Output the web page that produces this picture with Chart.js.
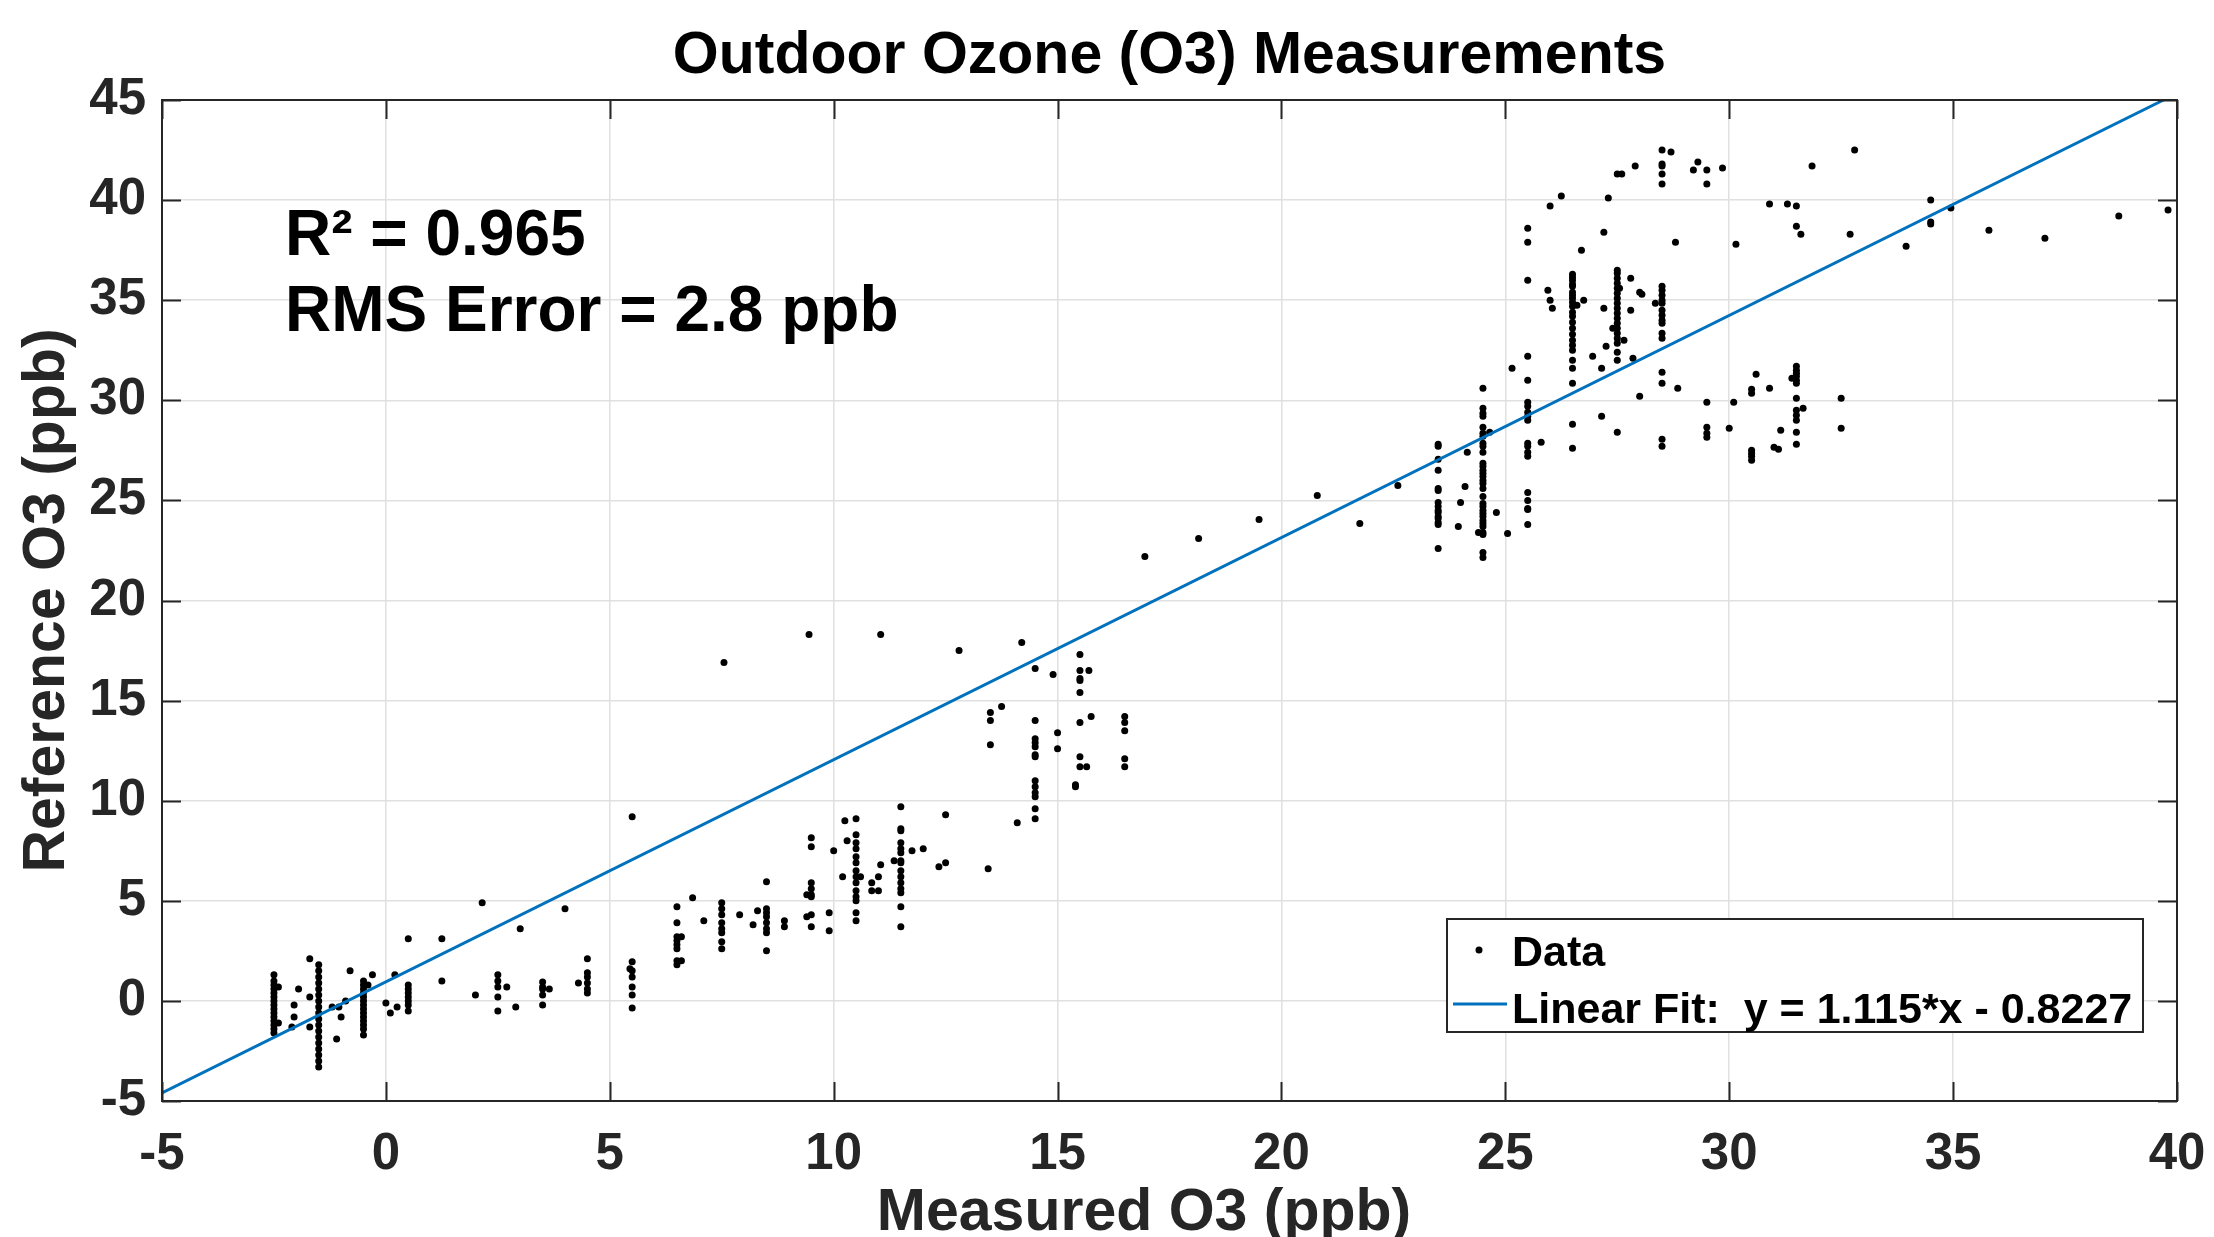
<!DOCTYPE html>
<html>
<head>
<meta charset="utf-8">
<title>Outdoor Ozone (O3) Measurements</title>
<script src="https://cdn.jsdelivr.net/npm/chart.js@4.4.1/dist/chart.umd.min.js"></script>
<style>
  html, body { margin: 0; padding: 0; background: #fff; }
  #wrap { width: 2214px; height: 1237px; }
</style>
</head>
<body>
<div id="wrap"><canvas id="ozoneChart" width="2214" height="1237"></canvas></div>
<script>
// Axis ticks
const xTicks = [-5, 0, 5, 10, 15, 20, 25, 30, 35, 40];
const yTicks = [-5, 0, 5, 10, 15, 20, 25, 30, 35, 40, 45];

// Linear fit line as drawn (end points)
const fitX = [-5, 39.7];
const fitY = [-4.6, 45];

// Stacked readings: [measured, [reference values...]]
const stacks = [
    [-2.5, [1.3, 1.0, 0.8, 0.6, 0.4, 0.2, 0.0, -0.2, -0.4, -0.6, -0.8, -1.0, -1.2, -1.4, -1.6]],
    [-1.5, [1.8, 1.5, 1.2, 0.9, 0.6, 0.3, 0.0, -0.3, -0.6, -0.9, -1.2, -1.5, -1.8, -2.1, -2.4, -2.7, -3.0, -3.3]],
    [-0.5, [1.0, 0.8, 0.6, 0.4, 0.2, 0.0, -0.2, -0.4, -0.6, -0.8, -1.0, -1.2, -1.4, -1.7]],
    [0.5, [3.1, 0.8, 0.6, 0.4, 0.2, 0.0, -0.2, -0.5]],
    [2.5, [1.3, 1.0, 0.7, 0.2, -0.5]],
    [3.5, [0.95, 0.7, 0.6, 0.3, -0.2]],
    [4.5, [2.1, 1.4, 1.2, 0.9, 0.6, 0.4]],
    [5.5, [1.95, 1.5, 1.2, 0.7, 0.3, -0.35]],
    [6.5, [4.7, 3.9, 3.2, 3.0, 2.8, 2.6, 2.0, 1.8]],
    [7.5, [4.9, 4.6, 4.3, 3.9, 3.6, 3.4, 2.95, 2.6]],
    [8.5, [5.95, 4.6, 4.4, 4.2, 3.9, 3.6, 3.4, 2.5]],
    [9.5, [8.15, 7.7, 5.9, 5.6, 5.3, 5.2, 4.3, 3.7]],
    [10.5, [9.1, 8.3, 7.9, 7.6, 7.2, 6.9, 6.5, 6.2, 5.9, 5.5, 5.2, 5.0, 4.4, 4.0]],
    [11.5, [9.7, 8.6, 8.5, 7.9, 7.6, 7.4, 7.0, 6.9, 6.5, 6.2, 5.9, 5.6, 5.4, 4.7, 3.7]],
    [14.5, [16.6, 14.0, 13.1, 12.9, 12.7, 12.3, 12.2, 11.0, 10.7, 10.4, 10.2, 9.6, 9.1]],
    [15.5, [17.3, 16.5, 16.1, 16.0, 15.4, 13.9, 12.2, 11.7]],
    [16.5, [14.2, 13.9, 13.5, 12.1, 11.7]],
    [23.5, [27.8, 27.7, 27.05, 26.5, 25.6, 25.5, 24.9, 24.7, 24.5, 24.4, 24.2, 24.1, 23.9, 23.8, 22.6]],
    [24.5, [30.6, 29.6, 29.35, 29.2, 28.65, 28.35, 28.2, 27.85, 27.7, 27.4, 26.85, 26.7, 26.5, 26.35, 26.2, 26.0,
            25.85, 25.6, 25.2, 24.85, 24.7, 24.5, 24.35, 24.2, 24.0, 23.85, 23.7, 23.4, 23.3, 22.4, 22.15]],
    [25.5, [38.6, 37.9, 36.0, 32.2, 31.0, 29.9, 29.7, 29.4, 29.2, 29.0, 27.85, 27.7, 27.4, 27.2, 25.4, 25.0, 24.6, 24.55, 23.8]],
    [26.5, [36.3, 36.15, 36.0, 35.8, 35.7, 35.4, 35.25, 35.1, 34.9, 34.7, 34.4, 34.2, 33.9, 33.6, 33.3, 33.0,
            32.75, 32.5, 32.0, 31.6, 30.85, 28.8, 27.6]],
    [27.5, [41.3, 36.5, 36.35, 36.1, 35.85, 35.6, 35.35, 35.1, 34.85, 34.6, 34.35, 34.1, 33.85, 33.6, 33.35, 33.1,
            32.85, 32.4, 32.0, 28.4]],
    [28.5, [42.5, 41.8, 41.7, 41.3, 40.8, 35.7, 35.5, 35.25, 35.0, 34.85, 34.5, 34.25, 34.0, 33.85, 33.35, 33.1,
            31.4, 30.85, 28.05, 27.7]],
    [29.5, [41.5, 40.8, 29.9, 28.65, 28.35, 28.15]],
    [30.5, [30.55, 30.35, 27.5, 27.35, 27.2, 27.0]],
    [31.5, [39.7, 38.7, 31.7, 31.5, 31.35, 31.2, 31.0, 30.85, 30.1, 29.5, 29.25, 29.0, 28.4, 27.8]]
];

// Loose readings: [measured, reference]
const scattered = [
    [-2.4, 0.7], [-2.4, -1.1], [-2.1, -1.3], [-1.95, 0.6], [-2.05, -0.2], [-2.05, -0.8], [-1.7, 2.1], [-1.7, 0.2], [-1.7, -1.3],
    [-1.2, -0.3], [-1.05, -0.3], [-1.0, -0.8], [-1.1, -1.9], [-0.9, 0.0], [-0.8, 1.5],
    [-0.4, 0.8], [-0.3, 1.3], [0.0, -0.1], [0.1, -0.6], [0.2, 1.3], [0.25, -0.3],
    [1.25, 3.1], [1.25, 1.0], [2.0, 0.3], [2.15, 4.9],
    [2.7, 0.7], [2.9, -0.3], [3.0, 3.6], [3.65, 0.6], [4.0, 4.6], [4.3, 0.9],
    [5.45, 1.6], [5.5, 9.2],
    [6.6, 3.2], [6.6, 2.0], [6.85, 5.15], [7.1, 4.0],
    [7.9, 4.3], [8.2, 3.8], [8.3, 4.5], [8.9, 4.0], [8.9, 3.7],
    [9.4, 5.3], [9.4, 4.2], [9.9, 4.4], [9.9, 3.5], [10.0, 7.5],
    [10.25, 9.0], [10.3, 8.0], [10.2, 6.2], [10.6, 6.2], [10.85, 5.9], [10.85, 5.5], [11.0, 6.2], [11.0, 5.5], [11.05, 6.8],
    [11.35, 7.0], [11.75, 7.5], [12.0, 7.6], [12.35, 6.7], [12.5, 6.9], [12.5, 9.3], [13.45, 6.6], [14.1, 8.9],
    [13.5, 14.4], [13.5, 14.0], [13.5, 12.8], [13.75, 14.7],
    [14.9, 16.3], [15.0, 13.4], [15.0, 12.6], [15.7, 16.5], [15.75, 14.2], [15.65, 11.7], [15.4, 10.8], [15.4, 10.7],
    [7.55, 16.9], [9.45, 18.3], [11.05, 18.3], [12.8, 17.5], [14.2, 17.9],
    [16.95, 22.2], [18.15, 23.1], [19.5, 24.05], [20.8, 25.25], [21.75, 23.85], [22.6, 25.75],
    [24.0, 24.9], [23.95, 23.7], [24.1, 25.7], [24.15, 27.4],
    [24.65, 28.4], [24.4, 23.4], [24.8, 24.4], [25.05, 23.35], [25.15, 31.6], [25.8, 27.9],
    [25.95, 35.5], [26.0, 35.0], [26.05, 34.6], [26.0, 39.7], [26.25, 40.2], [26.7, 37.5],
    [26.6, 34.75], [26.75, 35.0], [26.95, 32.2], [27.15, 31.6], [27.25, 32.7], [27.15, 29.2], [27.2, 34.6],
    [27.3, 40.1], [27.2, 38.4], [27.6, 41.3], [27.9, 41.7],
    [27.55, 35.6], [27.4, 33.6], [27.65, 33.0], [27.8, 36.1], [28.0, 35.4], [28.05, 35.3], [27.8, 34.5], [27.85, 32.1], [28.0, 30.2],
    [28.35, 34.85], [28.7, 42.4], [28.85, 30.6], [28.8, 37.9],
    [29.2, 41.5], [29.3, 41.9], [29.85, 41.6], [30.0, 28.6], [30.1, 29.9], [30.15, 37.8],
    [30.6, 31.3], [30.9, 30.6], [31.0, 27.65], [31.1, 27.55], [31.15, 28.5], [30.9, 39.8], [31.3, 39.8],
    [31.4, 31.1], [31.65, 29.6], [31.6, 38.3], [31.85, 41.7], [32.5, 30.1], [32.5, 28.6], [32.7, 38.3], [32.8, 42.5],
    [33.95, 37.7], [34.5, 40.0], [34.5, 38.9], [34.5, 38.8], [34.95, 39.6], [35.8, 38.5], [37.05, 38.1], [38.7, 39.2], [39.8, 39.5]
];

const FONT = '"Liberation Sans", Arial, Helvetica, sans-serif';
const AXIS_COLOR = '#262626';
const FIT_COLOR = '#0072BD';

// Build scatter points
const dataPoints = [];
stacks.forEach(([mx, refs]) => refs.forEach(r => dataPoints.push({x: mx, y: r})));
scattered.forEach(([mx, r]) => dataPoints.push({x: mx, y: r}));
const fitPoints = fitX.map((v, i) => ({x: v, y: fitY[i]}));

// Title, x label, box, inward ticks, annotation and legend (MATLAB look)
const matlabDecor = {
    id: 'matlabDecor',
    afterDraw(chart) {
        const {ctx, chartArea: a, scales: {x, y}} = chart;
        const tickLen = 19;
        ctx.save();

        // inward tick marks on all four sides
        ctx.strokeStyle = AXIS_COLOR;
        ctx.lineWidth = 2;
        ctx.beginPath();
        xTicks.forEach(v => {
            const px = Math.round(x.getPixelForValue(v)) + 0.5;
            ctx.moveTo(px, a.bottom); ctx.lineTo(px, a.bottom - tickLen);
            ctx.moveTo(px, a.top); ctx.lineTo(px, a.top + tickLen);
        });
        yTicks.forEach(v => {
            const py = Math.round(y.getPixelForValue(v)) + 0.5;
            ctx.moveTo(a.left, py); ctx.lineTo(a.left + tickLen, py);
            ctx.moveTo(a.right, py); ctx.lineTo(a.right - tickLen, py);
        });
        ctx.stroke();
        ctx.strokeRect(a.left, a.top, a.right - a.left, a.bottom - a.top);

        // title
        ctx.fillStyle = '#000';
        ctx.textAlign = 'center';
        ctx.textBaseline = 'middle';
        ctx.font = 'bold 59px ' + FONT;
        ctx.fillText('Outdoor Ozone (O3) Measurements', (a.left + a.right) / 2, 57);

        // x axis label
        ctx.fillStyle = AXIS_COLOR;
        ctx.fillText('Measured O3 (ppb)', a.left + 982, 1214);

        // statistics
        ctx.fillStyle = '#000';
        ctx.textAlign = 'left';
        ctx.textBaseline = 'alphabetic';
        ctx.font = 'bold 64px ' + FONT;
        ctx.fillText('R\u00B2 = 0.965', a.left + 123, a.top + 155);
        ctx.fillText('RMS Error = 2.8 ppb', a.left + 123, a.top + 231);

        // legend box
        const lw = 696, lh = 113;
        const lx = a.right - 34 - lw, ly = a.bottom - 69 - lh;
        ctx.fillStyle = '#fff';
        ctx.fillRect(lx, ly, lw, lh);
        ctx.strokeStyle = AXIS_COLOR;
        ctx.lineWidth = 2;
        ctx.strokeRect(lx, ly, lw, lh);

        ctx.fillStyle = '#000';
        ctx.beginPath();
        ctx.arc(lx + 32, ly + 31, 3.5, 0, Math.PI * 2);
        ctx.fill();

        ctx.strokeStyle = FIT_COLOR;
        ctx.lineWidth = 3;
        ctx.beginPath();
        ctx.moveTo(lx + 6, ly + 85);
        ctx.lineTo(lx + 60, ly + 85);
        ctx.stroke();

        ctx.font = 'bold 43px ' + FONT;
        ctx.fillText('Data', lx + 65, ly + 47);
        ctx.fillText('Linear Fit:  y = 1.115*x - 0.8227', lx + 65, ly + 104);

        ctx.restore();
    }
};

const ctx = document.getElementById('ozoneChart').getContext('2d');

const ozoneChart = new Chart(ctx, {
    type: 'scatter',
    data: {
        datasets: [{
            label: 'Linear Fit:  y = 1.115*x - 0.8227',
            type: 'line',
            data: fitPoints,
            borderColor: FIT_COLOR,
            borderWidth: 3,
            pointRadius: 0,
            fill: false,
            order: 0
        }, {
            label: 'Data',
            data: dataPoints,
            backgroundColor: '#000',
            borderColor: '#000',
            pointRadius: 3.5,
            borderWidth: 0,
            order: 1
        }]
    },
    options: {
        responsive: false,
        animation: false,
        devicePixelRatio: 1,
        layout: { padding: { top: 100, right: 37, left: 0, bottom: 0 } },
        plugins: {
            legend: { display: false },
            tooltip: { enabled: false },
            title: { display: false }
        },
        scales: {
            x: {
                type: 'linear',
                min: -5,
                max: 40,
                afterBuildTicks: scale => { scale.ticks = xTicks.map(v => ({value: v})); },
                afterFit: scale => {
                    scale.height = 136;
                    scale.paddingLeft = 0;
                    scale.paddingRight = 0;
                },
                grid: { color: '#e0e0e0', lineWidth: 1.5, drawTicks: false },
                border: { display: false },
                ticks: {
                    padding: 23,
                    color: AXIS_COLOR,
                    font: { family: FONT, size: 51, weight: 'bold', lineHeight: 1.2 },
                    maxRotation: 0
                }
            },
            y: {
                type: 'linear',
                min: -5,
                max: 45,
                afterBuildTicks: scale => { scale.ticks = yTicks.map(v => ({value: v})); },
                afterFit: scale => { scale.width = 162; },
                grid: { color: '#e0e0e0', lineWidth: 1.5, drawTicks: false },
                border: { display: false },
                ticks: {
                    padding: 16,
                    color: AXIS_COLOR,
                    font: { family: FONT, size: 51, weight: 'bold' }
                },
                title: {
                    display: true,
                    text: 'Reference O3 (ppb)',
                    color: AXIS_COLOR,
                    font: { family: FONT, size: 59, weight: 'bold', lineHeight: 1.2 },
                    padding: { top: 12, bottom: 0 }
                }
            }
        }
    },
    plugins: [matlabDecor]
});
</script>
</body>
</html>
